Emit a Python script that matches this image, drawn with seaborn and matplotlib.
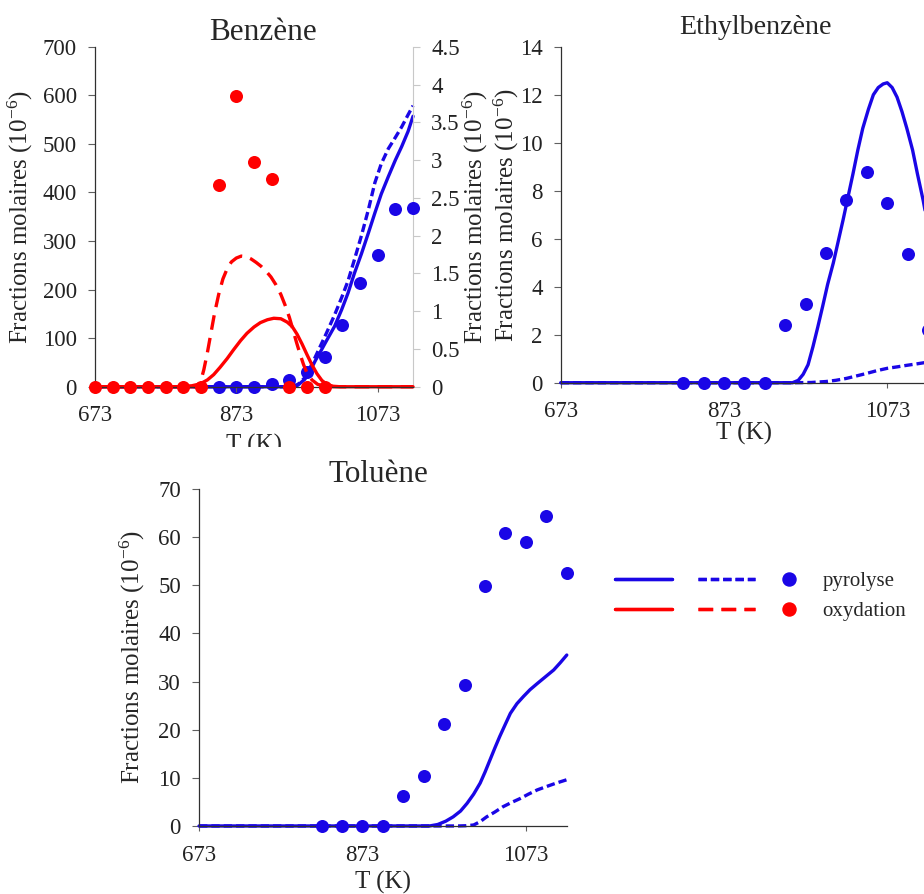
import numpy as np
import matplotlib.pyplot as plt
import seaborn as sns
from matplotlib.lines import Line2D
from matplotlib.ticker import FuncFormatter
from matplotlib.transforms import Bbox, TransformedBbox

sns.set_style("ticks")
plt.rcParams['font.family'] = ['Liberation Serif', 'DejaVu Serif']
plt.rcParams['mathtext.fontset'] = 'custom'
plt.rcParams['mathtext.rm'] = 'Liberation Serif'
plt.rcParams['mathtext.it'] = 'Liberation Serif:italic'

BLUE = '#1a06e6'
RED = '#ff0000'
YLAB = 'Fractions molaires (10$^{\\mathrm{-6}}$)'

# --- Benzène: oxydation (left axis) ---
bz_ox_T = [673, 698, 723, 748, 773, 798, 823, 848, 873, 898, 923, 948, 973, 998]
bz_ox_pts = [0, 0, 0, 0, 0, 0, 0, 415, 598, 462, 427, 0, 0, 0]
bz_ox_solid_T = [673, 790, 810, 822, 832, 841, 850, 860, 869, 879, 888, 898, 907, 917, 926,
                 936, 945, 952, 959, 966, 973, 980, 987, 994, 1001, 1010, 1020, 1123]
bz_ox_solid = [0, 0, 2, 6, 14, 25, 40, 58, 76, 95, 110, 123, 132, 138, 141,
               140, 133, 124, 108, 88, 66, 45, 27, 13, 5, 1, 0, 0]
bz_ox_dash_T = [673, 815, 822, 827, 832, 837, 842, 848, 854, 860, 866, 873, 880, 887, 894, 901,
                908, 915, 922, 929, 936, 942, 948, 953, 958, 963, 968, 973, 980, 988, 998, 1010, 1123]
bz_ox_dash = [0, 0, 8, 35, 70, 110, 150, 190, 222, 243, 257, 265, 269, 268, 263, 256,
              248, 238, 226, 210, 190, 168, 143, 118, 92, 68, 46, 28, 14, 5, 1, 0, 0]

# --- Benzène: pyrolyse (right axis) ---
bz_py_T = [848, 873, 898, 923, 948, 973, 998, 1023, 1048, 1073, 1098, 1123]
bz_py_pts = [0, 0, 0, 0.03, 0.09, 0.2, 0.39, 0.82, 1.37, 1.74, 2.35, 2.36]
bz_py_solid_T = [673, 950, 960, 970, 978, 985, 993, 1000, 1012, 1022, 1031, 1040, 1050,
                 1060, 1069, 1078, 1088, 1098, 1107, 1116, 1123]
bz_py_solid = [0, 0, 0.02, 0.1, 0.22, 0.35, 0.48, 0.6, 0.8, 1.02, 1.24, 1.5, 1.76,
               2.04, 2.3, 2.55, 2.78, 3.0, 3.18, 3.38, 3.58]
bz_py_dash_T = [673, 950, 960, 970, 980, 990, 1000, 1012, 1022, 1031, 1040, 1050, 1060,
                1069, 1078, 1088, 1098, 1107, 1116, 1123]
bz_py_dash = [0, 0, 0.03, 0.12, 0.3, 0.5, 0.7, 0.95, 1.18, 1.4, 1.68, 2.0, 2.35,
              2.7, 2.95, 3.15, 3.3, 3.44, 3.6, 3.72]

# --- Ethylbenzène: pyrolyse ---
eb_T = [823, 848, 873, 898, 923, 948, 973, 998, 1023, 1048, 1073, 1098, 1123]
eb_pts = [0, 0, 0, 0, 0, 2.4, 3.3, 5.4, 7.6, 8.8, 7.5, 5.35, 2.2]
eb_solid_T = [673, 957, 964, 970, 976, 982, 988, 994, 1000, 1007, 1013, 1019, 1025, 1031,
              1037, 1043, 1050, 1056, 1062, 1068, 1073, 1079, 1085, 1091, 1097, 1104,
              1110, 1117, 1123]
eb_solid = [0, 0, 0.1, 0.35, 0.75, 1.5, 2.33, 3.2, 4.1, 5.0, 5.9, 6.8, 7.75, 8.7,
            9.7, 10.6, 11.4, 12.0, 12.3, 12.45, 12.5, 12.3, 11.9, 11.3, 10.6, 9.7,
            8.7, 7.6, 6.5]
eb_dash_T = [673, 960, 980, 998, 1010, 1023, 1035, 1048, 1060, 1073, 1085, 1096, 1110, 1123]
eb_dash = [0, 0, 0.01, 0.05, 0.1, 0.18, 0.28, 0.39, 0.5, 0.6, 0.66, 0.72, 0.79, 0.86]

# --- Toluène: pyrolyse ---
tol_T = [823, 848, 873, 898, 923, 948, 973, 998, 1023, 1048, 1073, 1098, 1123]
tol_pts = [0, 0, 0, 0, 6.2, 10.4, 21.1, 29.3, 49.9, 60.9, 58.9, 64.3, 52.5]
tol_solid_T = [673, 955, 965, 975, 984, 993, 1001, 1009, 1017, 1023, 1029, 1035, 1041,
               1048, 1054, 1062, 1070, 1078, 1087, 1097, 1107, 1115, 1123]
tol_solid = [0, 0, 0.3, 1.0, 1.9, 3.1, 4.7, 6.6, 8.9, 11.2, 13.7, 16.2, 18.6,
             21.2, 23.4, 25.4, 26.9, 28.3, 29.6, 31.0, 32.4, 33.9, 35.5]
tol_dash_T = [673, 990, 1000, 1009, 1017, 1025, 1035, 1045, 1055, 1066, 1076, 1087, 1100, 1110, 1123]
tol_dash = [0, 0, 0.05, 0.2, 0.9, 1.9, 2.9, 4.0, 4.85, 5.7, 6.6, 7.5, 8.3, 8.9, 9.6]

x_ticks = [673, 873, 1073]
LW = 2.4
BLUE_DASH = (0, (2.5, 1.2))
RED_DASH = (0, (4.4, 2.5))
TICK_FS = 16.5
LAB_FS = 18


def curve(ax, T, y, color, ls='-'):
    sns.lineplot(x=T, y=y, ax=ax, color=color, lw=LW, linestyle=ls,
                 errorbar=None, clip_on=False, zorder=2)


def dots(ax, T, y, color):
    sns.scatterplot(x=T, y=y, ax=ax, color=color, s=88, linewidth=0,
                    clip_on=False, zorder=4)


def style(ax, ymax, ystep):
    ax.set_xlim(673, 1123)
    ax.set_ylim(0, ymax)
    ax.set_xticks(x_ticks)
    ax.set_yticks(np.arange(0, ymax + ystep / 2, ystep))
    for s in ['top', 'right']:
        ax.spines[s].set_visible(False)
    for s in ['left', 'bottom']:
        ax.spines[s].set_color('#303030')
        ax.spines[s].set_linewidth(0.9)
    ax.tick_params(axis='y', direction='out', length=5, width=0.8, pad=8,
                   labelsize=TICK_FS, color='#606060', labelcolor='#222222')
    ax.tick_params(axis='x', direction='out', length=3.5, width=0.8, pad=10,
                   labelsize=TICK_FS, color='#606060', labelcolor='#222222')


fig = plt.figure(figsize=(9.24, 8.94), dpi=100)

# ---------- Benzène ----------
ax_bz = fig.add_axes([0.1028, 0.5674, 0.3442, 0.3803])
ax_bz2 = ax_bz.twinx()
ax_bz.set_zorder(ax_bz2.get_zorder() + 1)
ax_bz.patch.set_visible(False)

curve(ax_bz2, bz_py_solid_T, bz_py_solid, BLUE)
curve(ax_bz2, bz_py_dash_T, bz_py_dash, BLUE, BLUE_DASH)
dots(ax_bz2, bz_py_T, bz_py_pts, BLUE)
curve(ax_bz, bz_ox_solid_T, bz_ox_solid, RED)
curve(ax_bz, bz_ox_dash_T, bz_ox_dash, RED, RED_DASH)
dots(ax_bz, bz_ox_T, bz_ox_pts, RED)

style(ax_bz, 700, 100)
ax_bz2.set_ylim(0, 4.5)
ax_bz2.set_yticks(np.arange(0, 4.6, 0.5))
ax_bz2.yaxis.set_major_formatter(FuncFormatter(lambda v, p: f"{v:g}"))
for s in ['top', 'left', 'bottom']:
    ax_bz2.spines[s].set_visible(False)
ax_bz2.spines['right'].set_color('#c8c8c8')
ax_bz2.tick_params(axis='y', direction='out', length=5, width=0.8, pad=8,
                   labelsize=TICK_FS, color='#c8c8c8', labelcolor='#222222')
ax_bz.set_title('Benzène', fontsize=22.5, x=0.528, pad=4)
ax_bz.set_ylabel(YLAB, fontsize=LAB_FS)
ax_bz.yaxis.set_label_coords(-0.189, 0.5)
ax_bz2.set_ylabel(YLAB, fontsize=LAB_FS)
ax_bz2.yaxis.set_label_coords(1.149, 0.5)
ax_bz.set_xlabel('T (K)', fontsize=LAB_FS)
ax_bz.xaxis.set_label_coords(0.5, -0.138)
# the lower panel hides the bottom of this label in the original figure
lbl = ax_bz.xaxis.label
lbl.set_clip_box(TransformedBbox(Bbox([[0, (894 - 447) / 894], [1, 1]]), fig.transFigure))
lbl.set_clip_on(True)

# ---------- Ethylbenzène ----------
ax_eb = fig.add_axes([0.6068, 0.5719, 0.3976, 0.3758])
curve(ax_eb, eb_solid_T, eb_solid, BLUE)
curve(ax_eb, eb_dash_T, eb_dash, BLUE, BLUE_DASH)
dots(ax_eb, eb_T, eb_pts, BLUE)
style(ax_eb, 14, 2)
ax_eb.set_title('Ethylbenzène', fontsize=20.2, x=0.53, pad=9)
ax_eb.set_ylabel(YLAB, fontsize=LAB_FS)
ax_eb.yaxis.set_label_coords(-0.108, 0.5)
ax_eb.set_xlabel('T (K)', fontsize=LAB_FS)
ax_eb.xaxis.set_label_coords(0.5, -0.118)

# ---------- Toluène ----------
ax_tol = fig.add_axes([0.2154, 0.0761, 0.398, 0.377])
curve(ax_tol, tol_solid_T, tol_solid, BLUE)
curve(ax_tol, tol_dash_T, tol_dash, BLUE, BLUE_DASH)
dots(ax_tol, tol_T, tol_pts, BLUE)
style(ax_tol, 70, 10)
ax_tol.set_title('Toluène', fontsize=22.4, x=0.488, pad=4)
ax_tol.set_ylabel(YLAB, fontsize=LAB_FS)
ax_tol.yaxis.set_label_coords(-0.141, 0.5)
ax_tol.set_xlabel('T (K)', fontsize=LAB_FS)
ax_tol.xaxis.set_label_coords(0.5, -0.133)

# ---------- Legend ----------
line_handles = [
    Line2D([], [], color=BLUE, lw=LW),
    Line2D([], [], color=RED, lw=LW),
    Line2D([], [], color=BLUE, lw=LW, linestyle=BLUE_DASH),
    Line2D([], [], color=RED, lw=LW, linestyle=RED_DASH),
]
leg_lines = fig.legend(line_handles, [' '] * 4, ncol=2, loc='center left',
                       bbox_to_anchor=(0.6656, 0.3333), frameon=False, fontsize=15,
                       handlelength=2.75, handletextpad=0.3, columnspacing=0.68,
                       labelspacing=0.5, borderpad=0, borderaxespad=0)
dot_handles = [
    Line2D([], [], color=BLUE, marker='o', markersize=9.4, linestyle='none'),
    Line2D([], [], color=RED, marker='o', markersize=9.4, linestyle='none'),
]
fig.legend(dot_handles, ['pyrolyse', 'oxydation'], loc='center left',
           bbox_to_anchor=(0.843, 0.3333), frameon=False, fontsize=15,
           handlelength=0.95, handletextpad=1.15, labelspacing=0.5,
           borderpad=0, borderaxespad=0)
fig.add_artist(leg_lines)

fig.savefig('out.png', dpi=100)
